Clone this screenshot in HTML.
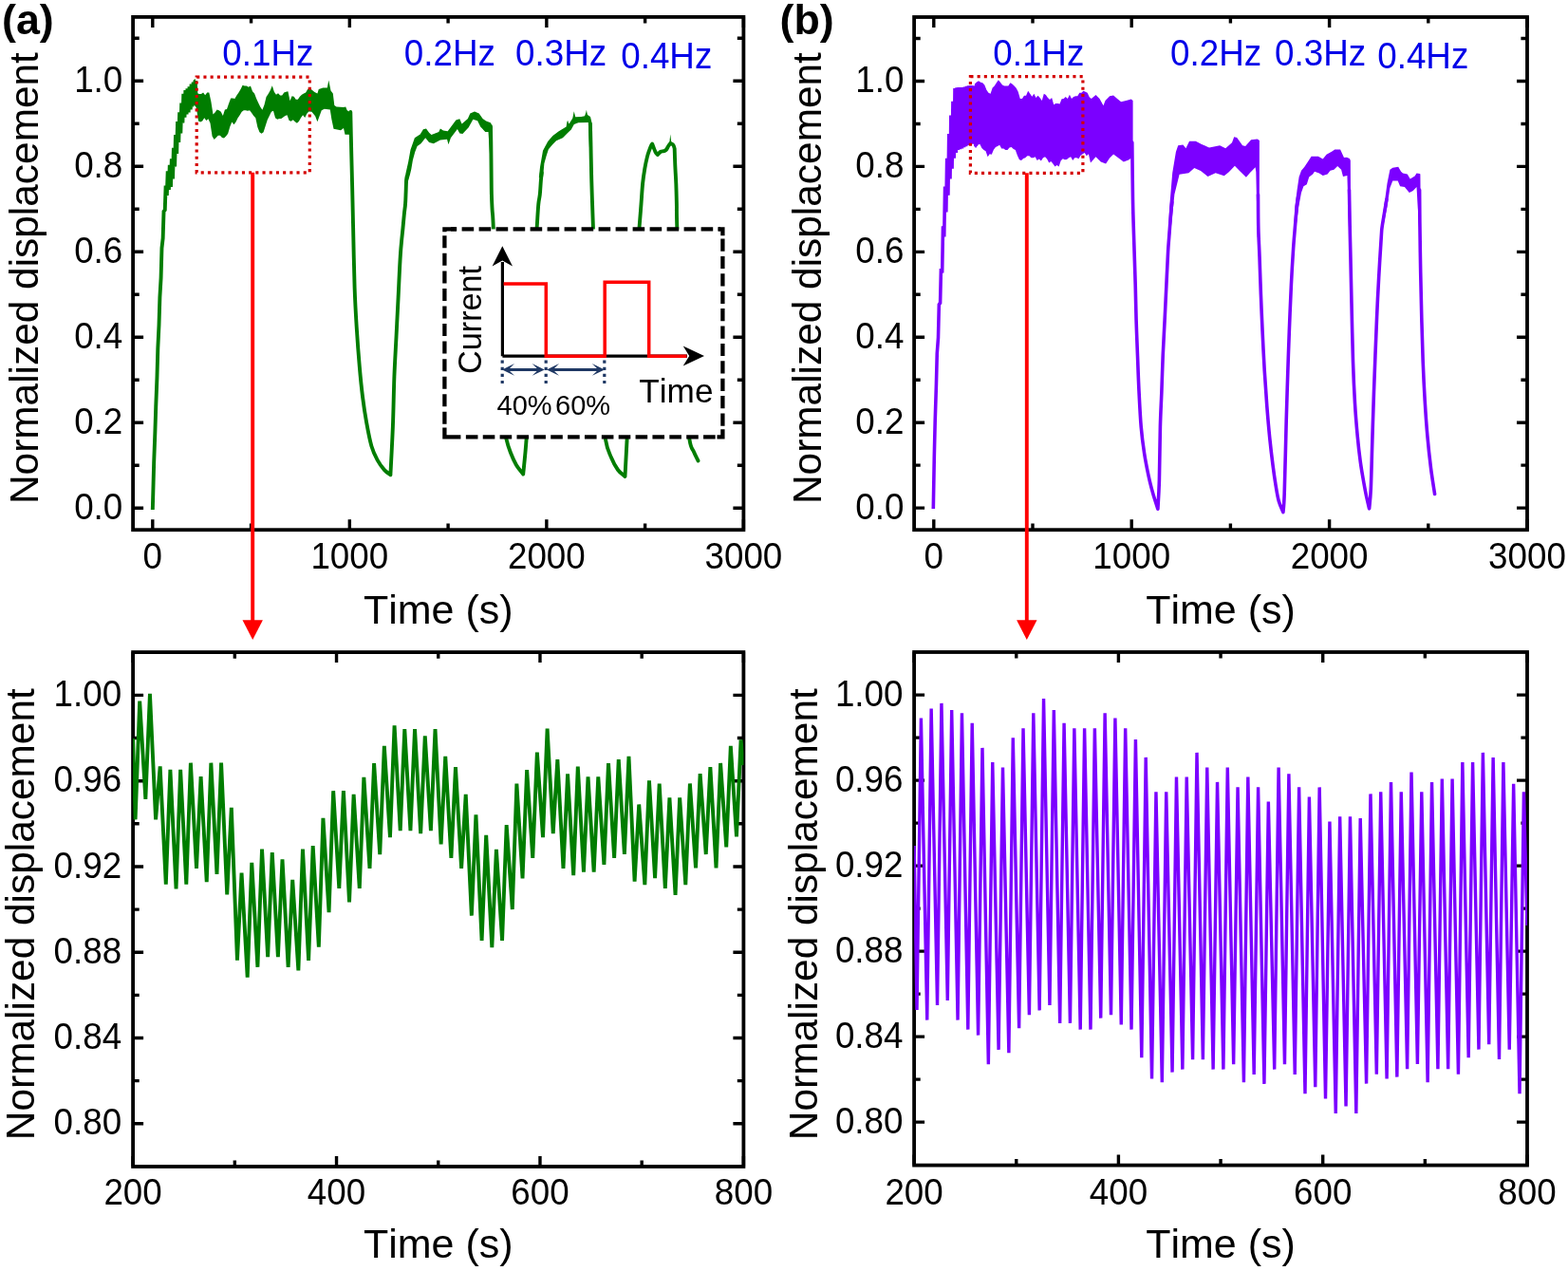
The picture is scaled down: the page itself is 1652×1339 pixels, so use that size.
<!DOCTYPE html>
<html><head><meta charset="utf-8"><title>Normalized displacement</title>
<style>html,body{margin:0;padding:0;background:#fff;width:1652px;height:1339px;overflow:hidden}svg{display:block}</style>
</head><body>
<svg width="1652" height="1339" viewBox="0 0 1652 1339" font-family="'Liberation Sans', Arial, sans-serif" style="font-kerning:none">
<rect width="1652" height="1339" fill="#fff"/>
<defs>
<clipPath id="cat"><rect x="140.1" y="17.9" width="643.3" height="540.3"/></clipPath>
<clipPath id="cbt"><rect x="963.1" y="18" width="645.9" height="540.2"/></clipPath>
<clipPath id="cab"><rect x="140.1" y="687.1" width="643.3" height="541.9"/></clipPath>
<clipPath id="cbb"><rect x="963.1" y="687" width="645.9" height="540.6"/></clipPath>
</defs>
<path d="M160.8 558.2V547.2M160.8 17.9V28.9M368.33 558.2V547.2M368.33 17.9V28.9M575.86 558.2V547.2M575.86 17.9V28.9M783.39 558.2V547.2M783.39 17.9V28.9M264.56 558.2V551.6M264.56 17.9V24.5M472.1 558.2V551.6M472.1 17.9V24.5M679.62 558.2V551.6M679.62 17.9V24.5M140.1 535.3H151.1M783.4 535.3H772.4M140.1 445.3H151.1M783.4 445.3H772.4M140.1 355.3H151.1M783.4 355.3H772.4M140.1 265.3H151.1M783.4 265.3H772.4M140.1 175.3H151.1M783.4 175.3H772.4M140.1 85.3H151.1M783.4 85.3H772.4M140.1 490.3H146.7M783.4 490.3H776.8M140.1 400.3H146.7M783.4 400.3H776.8M140.1 310.3H146.7M783.4 310.3H776.8M140.1 220.3H146.7M783.4 220.3H776.8M140.1 130.3H146.7M783.4 130.3H776.8M140.1 40.3H146.7M783.4 40.3H776.8" stroke="#000" stroke-width="3.4" fill="none"/>
<rect x="140.1" y="17.9" width="643.3" height="540.3" fill="none" stroke="#000" stroke-width="3.8"/>
<path d="M983.8 558.2V547.2M983.8 18V29M1192.2 558.2V547.2M1192.2 18V29M1400.6 558.2V547.2M1400.6 18V29M1609 558.2V547.2M1609 18V29M1088 558.2V551.6M1088 18V24.6M1296.4 558.2V551.6M1296.4 18V24.6M1504.8 558.2V551.6M1504.8 18V24.6M963.1 535.1H974.1M1609 535.1H1598M963.1 445.18H974.1M1609 445.18H1598M963.1 355.26H974.1M1609 355.26H1598M963.1 265.34H974.1M1609 265.34H1598M963.1 175.42H974.1M1609 175.42H1598M963.1 85.5H974.1M1609 85.5H1598M963.1 490.14H969.7M1609 490.14H1602.4M963.1 400.22H969.7M1609 400.22H1602.4M963.1 310.3H969.7M1609 310.3H1602.4M963.1 220.38H969.7M1609 220.38H1602.4M963.1 130.46H969.7M1609 130.46H1602.4M963.1 40.54H969.7M1609 40.54H1602.4" stroke="#000" stroke-width="3.4" fill="none"/>
<rect x="963.1" y="18" width="645.9" height="540.2" fill="none" stroke="#000" stroke-width="3.8"/>
<path d="M140.1 1229V1218M140.1 687.1V698.1M354.53 1229V1218M354.53 687.1V698.1M568.97 1229V1218M568.97 687.1V698.1M783.4 1229V1218M783.4 687.1V698.1M247.32 1229V1222.4M247.32 687.1V693.7M461.75 1229V1222.4M461.75 687.1V693.7M676.18 1229V1222.4M676.18 687.1V693.7M140.1 1183.8H151.1M783.4 1183.8H772.4M140.1 1093.52H151.1M783.4 1093.52H772.4M140.1 1003.24H151.1M783.4 1003.24H772.4M140.1 912.96H151.1M783.4 912.96H772.4M140.1 822.68H151.1M783.4 822.68H772.4M140.1 732.4H151.1M783.4 732.4H772.4M140.1 1138.66H146.7M783.4 1138.66H776.8M140.1 1048.38H146.7M783.4 1048.38H776.8M140.1 958.1H146.7M783.4 958.1H776.8M140.1 867.82H146.7M783.4 867.82H776.8M140.1 777.54H146.7M783.4 777.54H776.8" stroke="#000" stroke-width="3.4" fill="none"/>
<rect x="140.1" y="687.1" width="643.3" height="541.9" fill="none" stroke="#000" stroke-width="3.8"/>
<path d="M963.1 1227.6V1216.6M963.1 687V698M1178.4 1227.6V1216.6M1178.4 687V698M1393.7 1227.6V1216.6M1393.7 687V698M1609 1227.6V1216.6M1609 687V698M1070.75 1227.6V1221M1070.75 687V693.6M1286.05 1227.6V1221M1286.05 687V693.6M1501.35 1227.6V1221M1501.35 687V693.6M963.1 1182.1H974.1M1609 1182.1H1598M963.1 1092.1H974.1M1609 1092.1H1598M963.1 1002.1H974.1M1609 1002.1H1598M963.1 912.1H974.1M1609 912.1H1598M963.1 822.1H974.1M1609 822.1H1598M963.1 732.1H974.1M1609 732.1H1598M963.1 1137.1H969.7M1609 1137.1H1602.4M963.1 1047.1H969.7M1609 1047.1H1602.4M963.1 957.1H969.7M1609 957.1H1602.4M963.1 867.1H969.7M1609 867.1H1602.4M963.1 777.1H969.7M1609 777.1H1602.4" stroke="#000" stroke-width="3.4" fill="none"/>
<rect x="963.1" y="687" width="645.9" height="540.6" fill="none" stroke="#000" stroke-width="3.8"/>
<g clip-path="url(#cab)">
<polyline points="140.1,778 142.6,863.4 147.2,738.6 153.34,841.9 157.94,730.8 164.07,863.4 168.67,807.3 174.8,931.6 179.4,810.8 185.54,936.4 190.14,810.8 196.28,931.6 200.88,803.7 207.01,914.8 211.61,818 217.74,929.2 222.34,803.7 228.48,920.8 233.08,803.7 239.22,942.3 243.81,850.8 249.95,1011.7 254.55,919.6 260.68,1029.6 265.28,908.9 271.42,1018.8 276.02,894.5 282.15,1008.1 286.75,898.1 292.89,1008.1 297.49,905.3 303.62,1018.8 308.22,926.8 314.36,1022.4 318.96,894.5 325.09,1012 329.69,891.1 335.83,997.7 340.43,861.9 346.56,961.1 351.16,833.2 357.3,936 361.9,833.2 368.03,950.4 372.63,836.8 378.77,936 383.37,818.9 389.5,915 394.1,804.1 400.24,900.2 404.84,785.9 410.97,882.2 415.57,764.4 421.71,875.1 426.31,768.2 432.44,875.1 437.04,768.2 443.18,878.2 447.78,775.4 453.91,875.1 458.51,768.2 464.65,889.4 469.25,796.9 475.38,903.8 479.98,808.1 486.12,915 490.72,836.8 496.85,964.7 501.45,858.3 507.59,991 512.19,879.9 518.32,998.2 522.92,894.9 529.06,991 533.66,869.1 539.79,958 544.39,825.6 550.53,925.3 555.13,811.2 561.26,903.8 565.87,792.6 572,882.2 576.6,767.5 582.74,878.2 587.34,800.2 593.47,915 598.07,815.3 604.2,922.2 608.8,807.7 614.94,918.6 619.54,818.4 625.67,918.6 630.27,818.4 636.41,910.9 641.01,804.1 647.14,903.8 651.74,800.2 657.88,900 662.48,796.8 668.61,928.7 673.21,847.5 679.35,932.2 683.95,822.4 690.08,925.1 694.68,825.5 700.82,935.8 705.42,840.3 711.55,943 716.15,840.3 722.29,932.2 726.89,825.5 733.02,914.3 737.62,815.2 743.76,900 748.36,808.1 754.5,914.3 759.1,804 765.23,892.4 769.83,785.9 775.97,881.4 780.57,779.4 783.4,806" fill="none" stroke="#007d00" stroke-width="3.9" stroke-linejoin="bevel"/>
</g>
<g clip-path="url(#cbb)">
<polyline points="963.1,891 966,1064 970.4,756.6 976.76,1074.6 981.16,746.6 987.53,1059 991.93,740.9 998.29,1054 1002.69,748 1009.05,1074.6 1013.45,751.3 1019.81,1084.6 1024.21,761.7 1030.58,1090.6 1034.98,787.9 1041.34,1121.2 1045.74,803 1052.1,1105.9 1056.5,808.6 1062.87,1109.2 1067.27,777.3 1073.63,1083.3 1078.03,767.3 1084.39,1069.3 1088.79,751.3 1095.16,1064.4 1099.56,736 1105.92,1059 1110.32,748 1116.68,1077.9 1121.08,761.7 1127.44,1077.9 1131.85,767.3 1138.21,1084.6 1142.61,767.3 1148.97,1084.6 1153.37,767.3 1159.73,1072.6 1164.13,751.3 1170.5,1069.3 1174.9,756.6 1181.26,1079.5 1185.66,767.3 1192.02,1084.6 1196.42,779 1202.79,1114.2 1207.19,797.9 1213.55,1136.5 1217.95,834.3 1224.31,1140.3 1228.71,834.3 1235.07,1129.6 1239.47,818.6 1245.84,1126.6 1250.24,818.6 1256.6,1116.3 1261,792.9 1267.36,1116.3 1271.76,808.6 1278.13,1126.6 1282.53,823.9 1288.89,1126.6 1293.29,808.6 1299.65,1121.2 1304.05,829.2 1310.42,1140.3 1314.82,818.6 1321.18,1131.9 1325.58,829.2 1331.94,1141.9 1336.34,844.5 1342.7,1126.6 1347.11,808.6 1353.47,1121.2 1357.87,815.2 1364.23,1131.9 1368.63,829.2 1374.99,1152.3 1379.39,839.5 1385.76,1145.2 1390.16,829.4 1396.52,1157.5 1400.92,865.5 1407.28,1173 1411.68,860.3 1418.05,1165.5 1422.45,860.3 1428.81,1173 1433.21,862 1439.57,1141.6 1443.97,836.4 1450.33,1131.8 1454.73,834.2 1461.1,1136.4 1465.5,824.1 1471.86,1134.6 1476.26,834.2 1482.62,1126.2 1487.02,813.6 1493.39,1121 1497.79,834.2 1504.15,1140.2 1508.55,824.1 1514.91,1126.2 1519.31,820.6 1525.68,1126.2 1530.08,820.6 1536.44,1131.8 1540.84,803 1547.2,1114.3 1551.6,803 1557.96,1105.6 1562.37,792.9 1568.73,1100.2 1573.13,798.1 1579.49,1115.9 1583.89,803 1590.25,1105.6 1594.65,825.8 1601.02,1152.2 1605.42,834.2 1609,975" fill="none" stroke="#7b00ff" stroke-width="3.4" stroke-linejoin="bevel"/>
</g>
<g clip-path="url(#cat)">
<polyline points="160.8,537 161.28,520.14 162.17,487.31 163.35,455.88 164.24,428.36 165.43,398 166.32,366.88 167.5,342.42 168.4,313.15 169.58,292.81 170.47,261.18 171.65,250.96 172.55,222.11 173.73,221.86 174.62,195.48 175.8,206.04 176.7,180.41 177.88,200 178.77,173.82 179.96,196.85 180.85,167.33 182.03,188.42 182.92,155.87 184.11,175.55 185,141.95 186.18,161.89 187.07,128.03 188.26,149.83 189.15,118.18 190.33,140.37 191.22,108.43 192.41,129.52 193.3,98.84 194.48,123.64 195.37,95.18 196.56,120.52 197.45,93.42 198.63,118.39 199.53,91.23 200.71,115.4 201.6,88.67 202.79,111.42 203.68,86.54 204.87,107.13 205.76,84.98 206.95,111.42 207.84,100.23" fill="none" stroke="#007d00" stroke-width="3.9" stroke-linejoin="bevel"/>
<polygon points="203.68,84.54 205.76,82.98 207.84,98.23 209.91,98.93 211.99,98.93 214.07,97.52 216.15,100.37 218.23,97.52 220.3,97.52 222.38,106.91 224.46,120.62 226.54,118.49 228.61,115.62 230.69,116.34 232.77,117.77 234.85,122.06 236.93,115.62 239,114.94 241.08,109.12 243.16,103.4 245.24,103.4 247.32,104.12 249.39,100.55 251.47,97.6 253.55,93.97 255.63,89.68 257.71,90.44 259.78,90.44 261.86,91.87 263.94,90.44 266.02,96.16 268.09,98.39 270.17,104.12 272.25,108.4 274.33,112.71 276.41,115.7 278.48,110.56 280.56,101.88 282.64,99.01 284.72,95.3 286.8,90.3 288.87,96.82 290.95,99.83 293.03,98.31 295.11,100.45 297.18,100.45 299.26,97.6 301.34,96.82 303.42,96.14 305.5,106.25 307.57,101.24 309.65,101.86 311.73,104.81 313.81,104.81 315.89,101.86 317.96,99.81 320.04,98.39 322.12,97.58 324.2,93.97 326.27,92.67 331.4,96.9 334.4,98.4 335.8,93.9 340.3,92.4 344.8,92.4 346.3,84.6 348.5,95.4 350.8,98.4 352.3,111.1 354.5,112.6 362,112.9 364.2,112.6 365.7,116.3 369.5,118.5 370.6,120 369.8,143 367.6,141.7 363.5,141.7 362,135 359,137.2 351.5,135.7 349.3,125.3 347.8,115.6 341.8,114.8 338.8,116.3 336.6,122.3 334.4,128.3 332.1,122.3 328.4,117.8 325.38,117.51 323.31,119.7 321.23,124.07 319.15,121.22 317.07,124.07 315,127.64 312.92,129.79 310.84,128.35 308.76,126.22 306.68,127.64 304.61,126.94 302.53,121.22 300.45,121.97 298.37,123.39 296.29,124.92 294.22,124.92 292.14,125.64 290.06,124.21 287.98,116.87 285.9,117.67 283.83,121.97 281.75,126.26 279.67,132.78 277.59,139.36 275.52,140.8 273.44,139.36 271.36,134.12 269.28,124.21 267.2,121.97 265.13,119.1 263.05,116.25 260.97,116.87 258.89,116.25 256.81,116.25 254.74,117.67 252.66,121.26 250.58,124.21 248.5,128.39 246.43,131.26 244.35,128.39 242.27,133.4 240.19,140.7 238.11,143.55 236.04,145.62 233.96,144.9 231.88,142.77 229.8,142.77 227.72,144.9 225.65,147.06 223.57,143.49 221.49,129.65 219.41,125.36 217.34,127.04 215.26,124.17 213.18,127.52 211.1,128.47 209.02,127.52 206.95,113.92 204.87,109.63 202.79,113.92" fill="#007d00" stroke="none"/>
<path d="M369.3 118C369.45 125 369.88 146.33 370.2 160C370.52 173.67 370.88 186.67 371.2 200C371.52 213.33 371.7 222.88 372.1 240C372.5 257.12 373 285.28 373.6 302.7C374.2 320.12 374.83 330.55 375.7 344.5C376.57 358.45 377.75 374.2 378.8 386.4C379.85 398.6 380.78 407.95 382 417.7C383.22 427.45 384.53 436.18 386.1 444.9C387.67 453.62 389.48 463.38 391.4 470C393.32 476.62 395.33 480.42 397.6 484.6C399.87 488.78 402.7 492.48 405 495.1C407.3 497.72 410.33 499.43 411.4 500.3C411.82 491.77 413.23 466.35 413.9 449.1C414.57 431.85 414.8 412.48 415.4 396.8C416 381.12 416.8 368.93 417.5 355C418.2 341.07 418.87 327.7 419.6 313.2C420.33 298.7 421.08 280.2 421.9 268C422.72 255.8 423.83 247.17 424.5 240C425.17 232.83 425.47 229.17 425.9 225C426.32 220.83 426.77 218.67 427.05 215C427.33 211.33 427.44 206.83 427.6 203C427.76 199.17 427.83 194.83 428 192C428.17 189.17 428.5 187 428.6 186" fill="none" stroke="#007d00" stroke-width="3.9" stroke-linejoin="round" stroke-linecap="round"/>
<polygon points="426.3,192.3 427.4,182.9 430.2,170.4 432.5,157.8 436.9,145.3 442.7,141.4 445.9,136.3 449,135.5 452.1,139.8 454.5,142.1 462.3,139 463.9,135.5 467,137.4 471.7,138.2 480.4,126.5 484.3,125.3 486.6,130.4 492.9,124.9 495.3,119.4 500,117.4 504.7,119.4 508.6,124.9 512.1,127.6 516.8,129.2 517.6,130.4 518.5,165 516.2,165 514.5,139 511.3,139 506.2,133.5 503.1,127.2 498.4,125.7 493.7,134.3 487.4,141 484.3,140.6 481.9,135.9 474.9,145.3 472.5,152.3 471,146.8 463.9,147.6 456.8,151.2 452.1,150 448.2,145.3 443.5,151.2 439.6,153.9 437.2,160.2 434.9,168.8 433.3,178.2 431.8,184.5 429.4,192.3" fill="#007d00" stroke="none"/>
<path d="M517 133C517.05 135.83 517.2 142.17 517.3 150C517.4 157.83 517.5 170.83 517.6 180C517.7 189.17 517.73 198.17 517.9 205C518.07 211.83 518.28 215.1 518.6 221C518.92 226.9 519.15 222.23 519.8 240.4C520.45 258.57 521.47 303.4 522.5 330C523.53 356.6 524.75 381.67 526 400C527.25 418.33 528.75 429.55 530 440C531.25 450.45 532.17 456.53 533.5 462.7C534.83 468.87 536.25 472.45 538 477C539.75 481.55 541.8 486.25 544 490C546.2 493.75 550 497.92 551.2 499.5C551.77 493.37 553.47 479.28 554.6 462.7C555.73 446.12 556.77 427.12 558 400C559.23 372.88 560.72 326.8 562 300C563.28 273.2 564.82 253.37 565.7 239.2C566.58 225.03 566.78 220.7 567.3 215C567.82 209.3 568.37 209.17 568.8 205C569.23 200.83 569.57 193.83 569.9 190C570.23 186.17 570.65 183.33 570.8 182" fill="none" stroke="#007d00" stroke-width="3.9" stroke-linejoin="round" stroke-linecap="round"/>
<polygon points="567.8,187.2 569,176 572,158.8 577.2,149.1 582.4,143.1 588.4,138.6 596.6,133.4 597.4,128.5 598.1,126.7 598.8,129 599.6,130.4 603.3,124.4 604.3,119.5 604.8,117.2 605.4,120 606.3,123.3 612.3,122.9 616,122.2 617.3,118.5 617.9,115.8 618.4,118.5 619,121.1 622,122.9 623.1,127.4 623.8,165 621.4,165 619.8,128.9 609.3,129.3 604.8,131.1 601.8,136.4 598.1,140.1 592.9,145.3 586.1,148.3 582.4,152.1 577.9,157.3 575.7,164 573.4,172.2 572,187.2" fill="#007d00" stroke="none"/>
<path d="M621.9 130C621.98 133.33 622.22 141.67 622.4 150C622.58 158.33 622.78 170.83 623 180C623.22 189.17 623.38 195.13 623.7 205C624.02 214.87 624.18 216.7 624.9 239.2C625.62 261.7 626.82 311.53 628 340C629.18 368.47 630.35 389.55 632 410C633.65 430.45 635.9 450.7 637.9 462.7C639.9 474.7 641.82 476.62 644 482C646.18 487.38 648.58 491.67 651 495C653.42 498.33 657.25 500.83 658.5 502C658.85 495.45 659.68 479.7 660.6 462.7C661.52 445.7 662.6 427.12 664 400C665.4 372.88 667.4 326.8 669 300C670.6 273.2 672.52 253.37 673.6 239.2C674.68 225.03 674.92 222.62 675.5 215C676.08 207.38 676.47 199.73 677.1 193.5C677.73 187.27 678.52 182.25 679.3 177.6C680.08 172.95 681.02 168.77 681.8 165.6C682.58 162.43 683.25 160.72 684 158.6C684.75 156.48 685.77 154.07 686.3 152.9C686.83 151.73 687.05 151.82 687.2 151.6C687.73 152.97 689.45 157.9 690.4 159.8C691.35 161.7 692.48 162.47 692.9 163C693.43 162.47 695.03 160.43 696.1 159.8C697.17 159.17 698.35 159.52 699.3 159.2C700.25 158.88 700.95 158.85 701.8 157.9C702.65 156.95 703.65 154.65 704.4 153.5C705.15 152.35 705.98 151.42 706.3 151C706.82 151.32 708.67 151.95 709.4 152.9C710.13 153.85 710.48 156.07 710.7 156.7C710.8 159.65 711.03 168.27 711.3 174.4C711.57 180.53 712.03 186.73 712.3 193.5C712.57 200.27 712.73 207.38 712.9 215C713.07 222.62 712.62 218.37 713.3 239.2C713.98 260.03 715.72 311.53 717 340C718.28 368.47 719.43 389.55 721 410C722.57 430.45 724.73 451.7 726.4 462.7C728.07 473.7 729.48 472.22 731 476C732.52 479.78 734.75 483.83 735.5 485.4" fill="none" stroke="#007d00" stroke-width="3.9" stroke-linejoin="round" stroke-linecap="round"/>
<polygon points="705.2,151 706.3,141.5 707.4,151" fill="#007d00" stroke="none"/>
</g>
<g clip-path="url(#cbt)">
<polyline points="983.3,536 984.32,480.03 985.18,444.17 986.4,405.91 987.26,372.36 988.49,355.75 989.34,320.24 990.57,319.77 991.43,283.09 992.66,287.51 993.51,238.39 994.74,249.38 995.6,196.41 996.82,223.52 997.68,166.9 998.91,205.62 999.76,141 1000.99,188.56 1001.85,121.56 1003.08,177.68 1003.93,106.84 1005.16,166.81 1006.02,92.96 1007.25,160.97 1008.1,92.34 1009.33,157.96 1010.18,92 1011.41,157.16 1012.27,92 1013.5,156.36 1014.35,92 1015.58,155.33 1016.44,91.42 1017.66,154.12 1018.52,90.81 1019.75,152.91 1020.6,90.21 1021.83,151.95 1022.69,90.12 1023.92,151.77 1024.77,90.31 1026.04,151.82 1026.89,90.4 1028.13,153.94 1028.98,88.4 1030.21,150.82 1031.06,87.26" fill="none" stroke="#7b00ff" stroke-width="3.6" stroke-linejoin="bevel"/>
<polygon points="1026.89,88.4 1028.98,86.4 1031.06,85.26 1033.14,86.68 1035.23,87.34 1037.31,89.41 1039.39,94.65 1041.48,97.67 1043.56,98.79 1045.65,92.53 1047.73,90.53 1049.81,87.34 1051.9,84.28 1053.98,86.68 1056.06,89.41 1058.15,90.53 1060.23,90.53 1062.31,90.53 1064.4,87.34 1066.48,88.4 1068.57,90.53 1070.65,92.87 1072.73,96.65 1074.82,103.92 1076.9,103.92 1078.98,100.78 1081.07,100.78 1083.15,95.65 1085.23,98.79 1087.32,101.84 1089.4,98.79 1091.49,102.9 1093.57,100.78 1095.65,102.9 1097.74,105.96 1099.82,98.79 1101.9,100.11 1103.99,102.9 1106.07,104.96 1108.15,102.94 1110.24,110.16 1112.32,109.12 1114.4,109.12 1116.49,109.46 1118.57,104.34 1120.66,103.9 1122.74,101.88 1124.82,103.9 1126.91,99.79 1128.99,103.9 1131.07,101.88 1133.16,101.18 1135.24,101.18 1137.32,97.67 1139.41,97.67 1141.49,95.65 1143.58,96.69 1145.66,97.67 1147.74,102.22 1149.83,103.9 1154.5,100 1158.5,104 1162.5,111.3 1164.5,106 1169.1,101.3 1173.1,100.6 1177.1,104 1181.1,107.3 1186.4,106 1191.8,104.6 1193.6,106 1193.6,170 1191.8,166.5 1189.1,168.5 1183.8,170.5 1178.5,166.5 1173.1,162.5 1169.1,166.5 1165.1,172.5 1159.8,170.5 1154.5,165.2 1148.97,171.45 1146.89,162.13 1144.81,164.19 1142.72,161.05 1140.64,162.13 1138.56,163.87 1136.47,167.37 1134.39,166.25 1132.31,166.25 1130.22,169.05 1128.14,165.21 1126.05,166.25 1123.97,167.93 1121.89,168.29 1119.8,167.37 1117.72,169.33 1115.64,175.6 1113.55,174.1 1111.47,175.6 1109.39,172.5 1107.3,170.05 1105.22,171.47 1103.14,167.39 1101.05,165.25 1098.97,166.33 1096.88,169.39 1094.8,167.39 1092.72,169.07 1090.63,165.25 1088.55,166.33 1086.47,166.33 1084.38,164.27 1082.3,164.27 1080.22,166.33 1078.13,166.93 1076.05,169.07 1073.96,168.31 1071.88,163.85 1069.8,157.94 1067.71,156.92 1065.63,154.88 1063.55,155.54 1061.46,157.94 1059.38,157.94 1057.3,156.6 1055.21,156.6 1053.13,152.82 1051.04,153.9 1048.96,154.88 1046.88,157.68 1044.79,162.85 1042.71,162.19 1040.63,165.25 1038.54,159.14 1036.46,157.94 1034.38,155.94 1032.29,151.82 1030.21,152.82 1028.13,155.94 1026.04,153.82" fill="#7b00ff" stroke="none"/>
<path d="M1192.8 150C1192.92 160 1193.2 193.33 1193.5 210C1193.8 226.67 1194.15 235 1194.6 250C1195.05 265 1195.78 285.43 1196.2 300C1196.62 314.57 1196.72 324.93 1197.1 337.4C1197.48 349.87 1198.02 362.35 1198.5 374.8C1198.98 387.25 1199.38 399.65 1200 412.1C1200.62 424.55 1201.27 438.58 1202.2 449.5C1203.13 460.42 1204.27 468.87 1205.6 477.6C1206.93 486.33 1208.65 494.73 1210.2 501.9C1211.75 509.07 1213.28 514.88 1214.9 520.6C1216.52 526.32 1219.07 533.6 1219.9 536.2C1220.15 531.1 1220.98 520.05 1221.4 505.6C1221.82 491.15 1221.98 465.08 1222.4 449.5C1222.82 433.92 1223.43 424.55 1223.9 412.1C1224.37 399.65 1224.67 387.25 1225.2 374.8C1225.73 362.35 1226.48 349.87 1227.1 337.4C1227.72 324.93 1228.32 312.07 1228.9 300C1229.48 287.93 1230.13 273.33 1230.6 265C1231.07 256.67 1231.2 256.67 1231.7 250C1232.2 243.33 1233.08 231.17 1233.6 225C1234.12 218.83 1234.6 215 1234.8 213" fill="none" stroke="#7b00ff" stroke-width="3.6" stroke-linejoin="round" stroke-linecap="round"/>
<polygon points="1230.6,250 1232.2,217.7 1235.2,182.3 1238.9,159.9 1241.2,153.2 1246.4,152.4 1249.4,156.2 1253.1,148.7 1259.8,148.7 1266,152 1274,155.4 1285.2,153.2 1291.2,156.2 1298,150.2 1300.2,144.2 1303.2,144.9 1309.1,153.2 1312.1,153.9 1318.1,147.2 1324.8,146.6 1326.9,148 1326.8,250 1324.8,250 1323.3,181 1322.6,176.3 1317,182 1312.9,186.8 1306,180 1300.9,174.8 1295,181 1289.7,185.3 1280.7,182.3 1272.5,186 1265,180 1258.3,177.1 1252.4,182.3 1242.6,183.8 1237.4,204.7 1232.8,250" fill="#7b00ff" stroke="none"/>
<path d="M1325.5 205C1325.55 210.83 1325.55 229.17 1325.8 240C1326.05 250.83 1326.57 258.33 1327 270C1327.43 281.67 1327.88 296.77 1328.4 310C1328.92 323.23 1329.47 336.07 1330.1 349.4C1330.73 362.73 1331.42 376.93 1332.2 390C1332.98 403.07 1333.87 415.8 1334.8 427.8C1335.73 439.8 1336.75 451.55 1337.8 462C1338.85 472.45 1340.03 482.17 1341.1 490.5C1342.17 498.83 1343.17 505.73 1344.2 512C1345.23 518.27 1346.02 523.5 1347.3 528.1C1348.58 532.7 1351.13 537.68 1351.9 539.6C1352.12 536.33 1352.65 536.02 1353.2 520C1353.75 503.98 1354.62 464.33 1355.2 443.5C1355.78 422.67 1356.18 410.68 1356.7 395C1357.22 379.32 1357.68 365.23 1358.3 349.4C1358.92 333.57 1359.68 314.57 1360.4 300C1361.12 285.43 1361.94 272 1362.6 262C1363.26 252 1363.73 247.42 1364.35 240C1364.97 232.58 1365.69 223.33 1366.3 217.5C1366.91 211.67 1367.72 207.08 1368 205" fill="none" stroke="#7b00ff" stroke-width="3.6" stroke-linejoin="round" stroke-linecap="round"/>
<polygon points="1363.3,240 1364.4,217.5 1366.6,200 1368.6,186.5 1371,179.7 1374.4,175.8 1378.2,170 1381.6,164.7 1388.9,164.7 1393.7,167.6 1397.6,162.8 1403.4,159.4 1406.3,157.4 1412.1,157.4 1416,166.1 1418.9,165.7 1421.8,167.1 1422.8,169 1423.2,240 1421,240 1419.4,185 1415,186 1413.1,178.7 1409.2,174.9 1405.4,178.7 1401.5,179.7 1398.6,183.6 1393.7,185 1389.9,182.6 1385,180.7 1383.1,183.6 1379.2,186.5 1376.8,194.2 1373.4,196.2 1371,203 1368.3,217.5 1365.4,240" fill="#7b00ff" stroke="none"/>
<path d="M1421.5 200C1421.6 205.83 1421.87 223.33 1422.1 235C1422.33 246.67 1422.58 255.83 1422.9 270C1423.22 284.17 1423.57 301.5 1424 320C1424.43 338.5 1424.92 363.5 1425.5 381C1426.08 398.5 1426.72 411.93 1427.5 425C1428.28 438.07 1429.25 449.23 1430.2 459.4C1431.15 469.57 1432.15 478.15 1433.2 486C1434.25 493.85 1435.43 500.33 1436.5 506.5C1437.57 512.67 1438.58 518.12 1439.6 523C1440.62 527.88 1442.1 533.67 1442.6 535.8C1442.88 532.33 1443.77 526.8 1444.3 515C1444.83 503.2 1445.27 482.1 1445.8 465C1446.33 447.9 1446.7 434.25 1447.5 412.4C1448.3 390.55 1449.72 354.3 1450.6 333.9C1451.48 313.5 1452.02 304.12 1452.8 290C1453.58 275.88 1454.77 257.53 1455.3 249.2C1455.83 240.87 1455.57 243.53 1456 240C1456.43 236.47 1457.08 233 1457.9 228C1458.72 223 1460.4 213 1460.9 210" fill="none" stroke="#7b00ff" stroke-width="3.6" stroke-linejoin="round" stroke-linecap="round"/>
<polygon points="1455,240 1458.2,217.5 1461.5,193.3 1464.4,178.7 1467.3,176.8 1473.2,175.8 1476.1,180.7 1478,182.6 1482.8,183.6 1485.7,188.4 1490.6,185.5 1492.5,182.6 1495.9,183.1 1496.4,183.6 1496.9,240 1495,240 1492.5,197.1 1488.7,201 1484.8,203 1479.9,197.1 1475.1,196.2 1472.7,190.4 1467.3,190.4 1464.4,198.1 1461.5,217.5 1457,240" fill="#7b00ff" stroke="none"/>
<path d="M1495.6 200C1495.65 205.83 1495.72 220.52 1495.9 235C1496.08 249.48 1496.38 270.23 1496.7 286.9C1497.02 303.57 1497.38 319.32 1497.8 335C1498.22 350.68 1498.63 366.5 1499.2 381C1499.77 395.5 1500.42 408.93 1501.2 422C1501.98 435.07 1502.85 447.57 1503.9 459.4C1504.95 471.23 1506.22 482.82 1507.5 493C1508.78 503.18 1510.92 515.92 1511.6 520.5" fill="none" stroke="#7b00ff" stroke-width="3.6" stroke-linejoin="round" stroke-linecap="round"/>
</g>
<rect x="207.2" y="81.2" width="119.1" height="100.6" fill="none" stroke="#d40000" stroke-width="3.2" stroke-dasharray="3.1 4.1"/>
<path d="M266.2 181.8V656" stroke="#ff0000" stroke-width="3.9" fill="none"/>
<path d="M255.5 653.2L276.9 653.2L266.2 674Z" fill="#ff0000"/>
<rect x="1022.4" y="80.6" width="118.5" height="101.7" fill="none" stroke="#d40000" stroke-width="3.2" stroke-dasharray="3.1 4.1"/>
<path d="M1081.8 182.3V656.1" stroke="#ff0000" stroke-width="3.9" fill="none"/>
<path d="M1071.1 653.3L1092.5 653.3L1081.8 674.1Z" fill="#ff0000"/>
<rect x="468.4" y="241.4" width="293" height="219" fill="#fff"/>
<path d="M475 241.4L759 241.4" stroke="#000" stroke-width="4.3" stroke-dasharray="12.6 5.4" stroke-dashoffset="6.4" fill="none"/>
<path d="M761.4 250L761.4 450" stroke="#000" stroke-width="4.3" stroke-dasharray="13.2 5.2" stroke-dashoffset="16.9" fill="none"/>
<path d="M488 460.4L759 460.4" stroke="#000" stroke-width="4.3" stroke-dasharray="12.6 5.27" stroke-dashoffset="15" fill="none"/>
<path d="M468.4 246L468.4 449" stroke="#000" stroke-width="4.3" stroke-dasharray="13 5.55" stroke-dashoffset="16.25" fill="none"/>
<path d="M468.4 244.2V241.4H480.8M756.6 241.4H761.4V248.2M761.4 452.3V460.4H755.5M468.4 450.5V460.4H485.4" stroke="#000" stroke-width="4.3" fill="none"/>
<path d="M529.4 375.2V276M529.4 375.2H724" stroke="#000" stroke-width="3.2" fill="none"/>
<path d="M529.3 259.2L518.6 280.4L529.3 274.6L540 280.4Z" fill="#000"/>
<path d="M742 375L719.7 364.4L726.2 375L719.7 385.6Z" fill="#000"/>
<path d="M530.6 298.9H575.3V375.2H637.2V297.2H683.7V375.2H723.5" stroke="#ff0000" stroke-width="3.5" fill="none" stroke-linejoin="miter"/>
<path d="M529.2 379.6V405M575.2 379.6V405M636.8 379.6V405" stroke="#1f3864" stroke-width="3.2" stroke-dasharray="3.2 3.9" fill="none"/>
<path d="M533 389.4H570M580 389.4H633" stroke="#1f3864" stroke-width="3" fill="none"/>
<path d="M529 389.4L542 383L535.5 389.4L542 395.8Z" fill="#1f3864"/>
<path d="M573.7 389.4L560.7 383L567.2 389.4L560.7 395.8Z" fill="#1f3864"/>
<path d="M576 389.4L589 383L582.5 389.4L589 395.8Z" fill="#1f3864"/>
<path d="M636.9 389.4L623.9 383L630.4 389.4L623.9 395.8Z" fill="#1f3864"/>
<text transform="translate(507.3 336.9) rotate(-90)" text-anchor="middle" font-size="34.2">Current</text>
<text x="673.3" y="424.3" font-size="35.2">Time</text>
<text x="523.5" y="437.2" font-size="29">40%</text>
<text x="585" y="437.2" font-size="29">60%</text>
<text transform="translate(160.8 598.6) scale(1 1.035)" text-anchor="middle" font-size="36.8">0</text>
<text transform="translate(368.33 598.6) scale(1 1.035)" text-anchor="middle" font-size="36.8">1000</text>
<text transform="translate(575.86 598.6) scale(1 1.035)" text-anchor="middle" font-size="36.8">2000</text>
<text transform="translate(783.39 598.6) scale(1 1.035)" text-anchor="middle" font-size="36.8">3000</text>
<text transform="translate(983.8 598.6) scale(1 1.035)" text-anchor="middle" font-size="36.8">0</text>
<text transform="translate(1192.2 598.6) scale(1 1.035)" text-anchor="middle" font-size="36.8">1000</text>
<text transform="translate(1400.6 598.6) scale(1 1.035)" text-anchor="middle" font-size="36.8">2000</text>
<text transform="translate(1609 598.6) scale(1 1.035)" text-anchor="middle" font-size="36.8">3000</text>
<text transform="translate(140.1 1269) scale(1 1.035)" text-anchor="middle" font-size="36.8">200</text>
<text transform="translate(354.53 1269) scale(1 1.035)" text-anchor="middle" font-size="36.8">400</text>
<text transform="translate(568.97 1269) scale(1 1.035)" text-anchor="middle" font-size="36.8">600</text>
<text transform="translate(783.4 1269) scale(1 1.035)" text-anchor="middle" font-size="36.8">800</text>
<text transform="translate(963.1 1269) scale(1 1.035)" text-anchor="middle" font-size="36.8">200</text>
<text transform="translate(1178.4 1269) scale(1 1.035)" text-anchor="middle" font-size="36.8">400</text>
<text transform="translate(1393.7 1269) scale(1 1.035)" text-anchor="middle" font-size="36.8">600</text>
<text transform="translate(1609 1269) scale(1 1.035)" text-anchor="middle" font-size="36.8">800</text>
<text transform="translate(129.3 546.9) scale(1 1.035)" text-anchor="end" font-size="36.8">0.0</text>
<text transform="translate(129.3 456.9) scale(1 1.035)" text-anchor="end" font-size="36.8">0.2</text>
<text transform="translate(129.3 366.9) scale(1 1.035)" text-anchor="end" font-size="36.8">0.4</text>
<text transform="translate(129.3 276.9) scale(1 1.035)" text-anchor="end" font-size="36.8">0.6</text>
<text transform="translate(129.3 186.9) scale(1 1.035)" text-anchor="end" font-size="36.8">0.8</text>
<text transform="translate(129.3 96.9) scale(1 1.035)" text-anchor="end" font-size="36.8">1.0</text>
<text transform="translate(952.5 546.7) scale(1 1.035)" text-anchor="end" font-size="36.8">0.0</text>
<text transform="translate(952.5 456.78) scale(1 1.035)" text-anchor="end" font-size="36.8">0.2</text>
<text transform="translate(952.5 366.86) scale(1 1.035)" text-anchor="end" font-size="36.8">0.4</text>
<text transform="translate(952.5 276.94) scale(1 1.035)" text-anchor="end" font-size="36.8">0.6</text>
<text transform="translate(952.5 187.02) scale(1 1.035)" text-anchor="end" font-size="36.8">0.8</text>
<text transform="translate(952.5 97.1) scale(1 1.035)" text-anchor="end" font-size="36.8">1.0</text>
<text transform="translate(128.2 1195.4) scale(1 1.035)" text-anchor="end" font-size="36.8">0.80</text>
<text transform="translate(128.2 1105.12) scale(1 1.035)" text-anchor="end" font-size="36.8">0.84</text>
<text transform="translate(128.2 1014.84) scale(1 1.035)" text-anchor="end" font-size="36.8">0.88</text>
<text transform="translate(128.2 924.56) scale(1 1.035)" text-anchor="end" font-size="36.8">0.92</text>
<text transform="translate(128.2 834.28) scale(1 1.035)" text-anchor="end" font-size="36.8">0.96</text>
<text transform="translate(128.2 744) scale(1 1.035)" text-anchor="end" font-size="36.8">1.00</text>
<text transform="translate(951.5 1193.7) scale(1 1.035)" text-anchor="end" font-size="36.8">0.80</text>
<text transform="translate(951.5 1103.7) scale(1 1.035)" text-anchor="end" font-size="36.8">0.84</text>
<text transform="translate(951.5 1013.7) scale(1 1.035)" text-anchor="end" font-size="36.8">0.88</text>
<text transform="translate(951.5 923.7) scale(1 1.035)" text-anchor="end" font-size="36.8">0.92</text>
<text transform="translate(951.5 833.7) scale(1 1.035)" text-anchor="end" font-size="36.8">0.96</text>
<text transform="translate(951.5 743.7) scale(1 1.035)" text-anchor="end" font-size="36.8">1.00</text>
<text x="461.75" y="656.9" text-anchor="middle" font-size="43.0">Time (s)</text>
<text transform="translate(39.5 293.1) rotate(-90)" text-anchor="middle" font-size="42.4">Normalized displacement</text>
<text x="1286.05" y="656.9" text-anchor="middle" font-size="43.0">Time (s)</text>
<text transform="translate(865.4 293.1) rotate(-90)" text-anchor="middle" font-size="42.4">Normalized displacement</text>
<text x="461.75" y="1325.2" text-anchor="middle" font-size="43.0">Time (s)</text>
<text transform="translate(35.5 963.2) rotate(-90)" text-anchor="middle" font-size="42.4">Normalized displacement</text>
<text x="1286.05" y="1325.2" text-anchor="middle" font-size="43.0">Time (s)</text>
<text transform="translate(861.3 963.2) rotate(-90)" text-anchor="middle" font-size="42.4">Normalized displacement</text>
<text x="2" y="35.8" font-weight="bold" font-size="44.8">(a)</text>
<text x="821.5" y="35.8" font-weight="bold" font-size="44.8">(b)</text>
<text transform="translate(234.3 68.6) scale(1 1.035)" font-size="36.8" fill="#0000e8">0.1Hz</text>
<text transform="translate(425.8 69) scale(1 1.035)" font-size="36.8" fill="#0000e8">0.2Hz</text>
<text transform="translate(543.1 69.4) scale(1 1.035)" font-size="36.8" fill="#0000e8">0.3Hz</text>
<text transform="translate(654.2 72) scale(1 1.035)" font-size="36.8" fill="#0000e8">0.4Hz</text>
<text transform="translate(1046.2 68.5) scale(1 1.035)" font-size="36.8" fill="#0000e8">0.1Hz</text>
<text transform="translate(1233 69) scale(1 1.035)" font-size="36.8" fill="#0000e8">0.2Hz</text>
<text transform="translate(1343.1 69.4) scale(1 1.035)" font-size="36.8" fill="#0000e8">0.3Hz</text>
<text transform="translate(1451.2 72) scale(1 1.035)" font-size="36.8" fill="#0000e8">0.4Hz</text>
</svg>
</body></html>
